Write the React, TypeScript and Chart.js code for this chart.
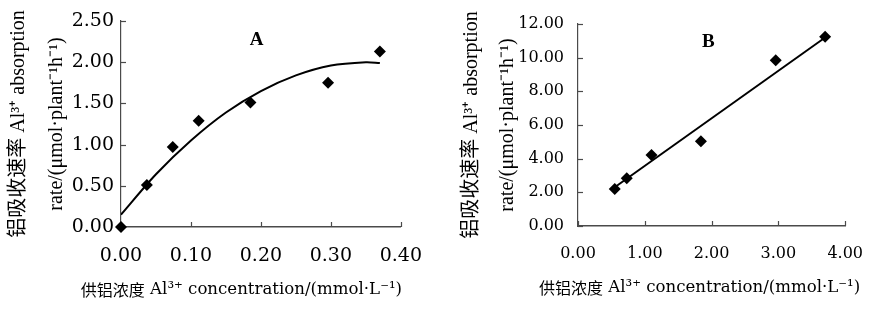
import React, { useEffect, useRef } from 'react';
import { Chart, registerables } from 'chart.js';
Chart.register(...registerables);

// ---- Panel A data ----
const concA = [0, 0.037, 0.074, 0.111, 0.185, 0.296, 0.37];
const rateA = [0, 0.51, 0.97, 1.29, 1.51, 1.75, 2.13];
const fitXA = [0, 0.05, 0.1, 0.15, 0.2, 0.25, 0.3, 0.35, 0.37];
const fitYA = [0.15, 0.64, 1.05, 1.39, 1.65, 1.84, 1.96, 2.0, 1.99];
const xTicksA = ['0.00', '0.10', '0.20', '0.30', '0.40'];
const yTicksA = ['0.00', '0.50', '1.00', '1.50', '2.00', '2.50'];

// ---- Panel B data ----
const concB = [0.55, 0.73, 1.1, 1.84, 2.96, 3.7];
const rateB = [2.2, 2.83, 4.22, 5.03, 9.84, 11.25];
const fitXB = [0.55, 3.7];
const fitYB = [2.3, 11.2];
const xTicksB = ['0.00', '1.00', '2.00', '3.00', '4.00'];
const yTicksB = ['0.00', '2.00', '4.00', '6.00', '8.00', '10.00', '12.00'];

const yTitle = ['铝吸收速率 Al\u00B3\u207A absorption', 'rate/(\u03BCmol\u00B7plant\u207B\u00B9h\u207B\u00B9)'];
const xTitleCn = '供铝浓度';
const xTitleEn = ' Al\u00B3\u207A concentration/(mmol\u00B7L\u207B\u00B9)';

const FAMILY = "'Liberation Serif', 'Times New Roman', 'Noto Sans CJK SC', serif";
const WIDE = "'DejaVu Serif', 'Noto Sans CJK SC', serif";
const CJK = "'Noto Sans CJK SC', sans-serif";
const AXIS_COLOR = '#4a4a4a';

const innerTicks = {
  id: 'innerTicks',
  beforeDatasetsDraw(chart: any) {
    const { ctx } = chart;
    const xs = chart.scales.x;
    const ys = chart.scales.y;
    const len = 5;
    ctx.save();
    ctx.strokeStyle = AXIS_COLOR;
    ctx.lineWidth = 1.2;
    xs.ticks.forEach((t: any) => {
      const px = Math.round(xs.getPixelForValue(t.value)) + 0.5;
      ctx.beginPath();
      ctx.moveTo(px, ys.bottom);
      ctx.lineTo(px, ys.bottom - len);
      ctx.stroke();
    });
    ys.ticks.forEach((t: any) => {
      const py = Math.round(ys.getPixelForValue(t.value)) + 0.5;
      ctx.beginPath();
      ctx.moveTo(xs.left, py);
      ctx.lineTo(xs.left + len, py);
      ctx.stroke();
    });
    ctx.restore();
  },
};

const panelLabel = {
  id: 'panelLabel',
  afterDraw(chart: any, _args: any, opts: any) {
    const { ctx } = chart;
    const px = chart.scales.x.getPixelForValue(opts.x);
    const py = chart.scales.y.getPixelForValue(opts.y);
    ctx.save();
    ctx.font = `bold ${opts.size}px ${FAMILY}`;
    ctx.fillStyle = '#000';
    ctx.textAlign = 'center';
    ctx.textBaseline = 'middle';
    ctx.fillText(opts.text, px, py);
    ctx.restore();
  },
};

const xTitlePlugin = {
  id: 'xTitleDraw',
  afterDraw(chart: any, _args: any, o: any) {
    const { ctx, chartArea } = chart;
    const cx = (chartArea.left + chartArea.right) / 2 + o.dx;
    ctx.save();
    ctx.fillStyle = '#000';
    ctx.textBaseline = 'middle';
    ctx.textAlign = 'left';
    const cjkFont = `${o.cjkSize}px ${CJK}`;
    const latFont = `${o.latSize}px ${WIDE}`;
    ctx.font = cjkFont;
    const w1 = ctx.measureText(o.cn).width;
    ctx.font = latFont;
    const w2 = ctx.measureText(o.en).width;
    let x = cx - (w1 + w2) / 2;
    ctx.font = cjkFont;
    ctx.fillText(o.cn, x, o.y);
    x += w1;
    ctx.font = latFont;
    ctx.fillText(o.en, x, o.y);
    ctx.restore();
  },
};

type PanelProps = {
  width: number;
  xs: number[];
  ys: number[];
  fx: number[];
  fy: number[];
  xTicks: string[];
  yTicks: string[];
  xMax: number;
  xStep: number;
  yMax: number;
  yStep: number;
  yWidth: number;
  xHeight: number;
  padTop: number;
  padRight: number;
  tickSize: number;
  yTickPad: number;
  xTickPad: number;
  yTitleLH: number;
  yTitlePadTop: number;
  xTitleDx: number;
  xTitleY: number;
  label: string;
  labelX: number;
  labelY: number;
  tension: number;
};

function Panel(p: PanelProps) {
  const ref = useRef<HTMLCanvasElement | null>(null);
  useEffect(() => {
    if (!ref.current) return;
    const pts = p.xs.map((x, i) => ({ x, y: p.ys[i] }));
    const fit = p.fx.map((x, i) => ({ x, y: p.fy[i] }));
    const chart = new Chart(ref.current, {
      type: 'scatter',
      data: {
        datasets: [
          {
            data: fit,
            showLine: true,
            borderColor: '#000',
            borderWidth: 2,
            pointRadius: 0,
            tension: p.tension,
            fill: false,
          },
          {
            data: pts,
            pointStyle: 'rectRot',
            pointRadius: 6,
            backgroundColor: '#000',
            borderColor: '#000',
            borderWidth: 0,
            clip: false,
          },
        ],
      },
      options: {
        responsive: false,
        animation: false,
        layout: { padding: { left: 0, top: p.padTop, right: p.padRight, bottom: 0 } },
        plugins: {
          legend: { display: false },
          tooltip: { enabled: false },
          panelLabel: { text: p.label, x: p.labelX, y: p.labelY, size: 19 },
          xTitleDraw: { cn: xTitleCn, en: xTitleEn, cjkSize: 16, latSize: 16.6, dx: p.xTitleDx, y: p.xTitleY },
        } as any,
        scales: {
          x: {
            type: 'linear',
            min: 0,
            max: p.xMax,
            grid: { display: true, drawOnChartArea: false, drawTicks: false },
            border: { display: true, color: AXIS_COLOR, width: 1.6 },
            ticks: {
              stepSize: p.xStep,
              color: '#000',
              padding: p.xTickPad,
              font: { family: WIDE, size: p.tickSize },
              maxRotation: 0,
              callback: (_v: any, i: number) => p.xTicks[i],
            },
            title: { display: false },
            afterFit: (s: any) => {
              s.height = p.xHeight;
            },
          },
          y: {
            type: 'linear',
            min: 0,
            max: p.yMax,
            grid: { display: true, drawOnChartArea: false, drawTicks: false },
            border: { display: true, color: AXIS_COLOR, width: 1.2 },
            ticks: {
              stepSize: p.yStep,
              color: '#000',
              padding: p.yTickPad,
              font: { family: WIDE, size: p.tickSize },
              callback: (_v: any, i: number) => p.yTicks[i],
            },
            title: {
              display: true,
              text: yTitle,
              color: '#000',
              font: { family: FAMILY, size: 20, lineHeight: p.yTitleLH / 20 },
              padding: { top: p.yTitlePadTop, bottom: 0 },
            },
            afterFit: (s: any) => {
              s.width = p.yWidth;
            },
          },
        },
      },
      plugins: [innerTicks, panelLabel, xTitlePlugin],
    } as any);
    return () => chart.destroy();
  }, []);
  return <canvas ref={ref} width={p.width} height={311} style={{ display: 'block' }} />;
}

export default function App() {
  useEffect(() => {
    document.body.style.margin = '0';
    document.body.style.background = '#fff';
  }, []);
  return (
    <div style={{ display: 'flex', width: 881, height: 311, background: '#fff' }}>
      <Panel
        width={440}
        xs={concA}
        ys={rateA}
        fx={fitXA}
        fy={fitYA}
        xTicks={xTicksA}
        yTicks={yTicksA}
        xMax={0.4}
        xStep={0.1}
        yMax={2.5}
        yStep={0.5}
        yWidth={121}
        xHeight={84}
        padTop={21}
        padRight={27}
        tickSize={19}
        yTickPad={7}
        xTickPad={18}
        yTitleLH={38}
        yTitlePadTop={0}
        xTitleDx={-19.5}
        xTitleY={290}
        label="A"
        labelX={0.194}
        labelY={2.27}
        tension={0.3}
      />
      <Panel
        width={441}
        xs={concB}
        ys={rateB}
        fx={fitXB}
        fy={fitYB}
        xTicks={xTicksB}
        yTicks={yTicksB}
        xMax={4}
        xStep={1}
        yMax={12}
        yStep={2}
        yWidth={138}
        xHeight={85}
        padTop={24}
        padRight={19}
        tickSize={16}
        yTickPad={14}
        xTickPad={18}
        yTitleLH={36}
        yTitlePadTop={14}
        xTitleDx={-12}
        xTitleY={288}
        label="B"
        labelX={1.95}
        labelY={10.95}
        tension={0}
      />
    </div>
  );
}
